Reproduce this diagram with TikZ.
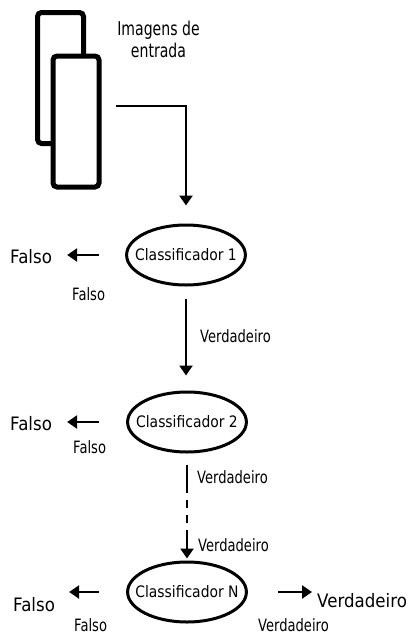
\documentclass[tikz,border=0pt]{standalone}
\usepackage{fontspec}
\setmainfont{DejaVu Sans}
\newfontfamily\fbigfam[FakeStretch=0.9]{DejaVu Sans}
\newfontfamily\fsmallfam[FakeStretch=0.77]{DejaVu Sans}
\newfontfamily\fellfam[FakeStretch=0.88]{DejaVu Sans}
\newfontfamily\fimgfam[FakeStretch=0.74]{DejaVu Sans}
\usetikzlibrary{arrows.meta,shapes.geometric}
\newcommand{\clstext}[1]{\makebox[84pt]{#1}}
\tikzset{
  bigtxt/.style={inner sep=0pt,font=\fbigfam\fontsize{18.5}{22}\selectfont},
  smalltxt/.style={inner sep=0pt,font=\fsmallfam\fontsize{17}{20}\selectfont},
  clsbox/.style={ellipse,draw,line width=3pt,minimum height=60pt,inner sep=0pt,font=\fellfam\fontsize{15.8}{19}\selectfont},
  imgbox/.style={draw,line width=5pt,rounded corners=4pt,fill=white,minimum width=46pt,minimum height=131pt,inner sep=0pt},
  arr/.style={line width=2.7pt,-{Triangle[length=10pt,width=13pt]}},
  plain/.style={line width=2.7pt},
}
\begin{document}
\begin{tikzpicture}[x=1pt,y=-1pt]
\useasboundingbox (0,0) rectangle (410,635);
% images
\node[imgbox] (back) at (60.5,78) {};
\node[imgbox] (front) at (76,121.5) {};
\node[inner sep=0pt,align=center,font=\fimgfam\fontsize{19}{22}\selectfont,anchor=base] (imgtxt) at (158.5,57.5) {Imagens de\\entrada};
\coordinate (start) at (116,106);
% classifiers
\node[clsbox] (c1) at (186,255) {\clstext{Classificador 1}};
\node[clsbox] (c2) at (187,422) {\clstext{Classificador 2}};
\node[clsbox] (cN) at (187,592) {\clstext{Classificador N}};
% labels
\node[bigtxt,anchor=base west] (f1) at (10,263) {Falso};
\node[smalltxt,anchor=base west] (sf1) at (72,300) {Falso};
\node[bigtxt,anchor=base west] (f2) at (10,430) {Falso};
\node[smalltxt,anchor=base west] (sf2) at (73,453) {Falso};
\node[bigtxt,anchor=base west] (fN) at (13,611) {Falso};
\node[smalltxt,anchor=base west] (sfN) at (74,631.5) {Falso};
\node[smalltxt,anchor=base west] (v1) at (200,342) {Verdadeiro};
\node[smalltxt,anchor=base west] (v2) at (197,483) {Verdadeiro};
\node[smalltxt,anchor=base west] (v3) at (198,551) {Verdadeiro};
\node[bigtxt,anchor=base west] (vN) at (317,607) {Verdadeiro};
\node[smalltxt,anchor=base west] (svN) at (258,631.5) {Verdadeiro};
\coordinate (da) at (187,485);
\coordinate (db) at (187,535);
% connectors
\draw[arr,shorten >=18pt] (start) -| (c1.north);
\draw[arr,shorten <=12pt,shorten >=15pt] (c1.south) -- (c1.south |- c2.north);
\draw[plain,shorten <=11pt] (c2.south) -- (da);
\draw[plain,dash pattern=on 8pt off 7pt] (da) -- (db);
\draw[arr,shorten >=2pt] (db) -- (cN.north);
\draw[arr,shorten <=26pt,shorten >=15pt] (c1.west) -- (c1.west -| f1.east);
\draw[arr,shorten <=27pt,shorten >=15pt] (c2.west) -- (c2.west -| f2.east);
\draw[arr,shorten <=27pt,shorten >=14pt] (cN.west) -- (cN.west -| fN.east);
\draw[arr,shorten <=30pt,shorten >=5pt] (cN.east) -- (cN.east -| vN.west);
\end{tikzpicture}
\end{document}
